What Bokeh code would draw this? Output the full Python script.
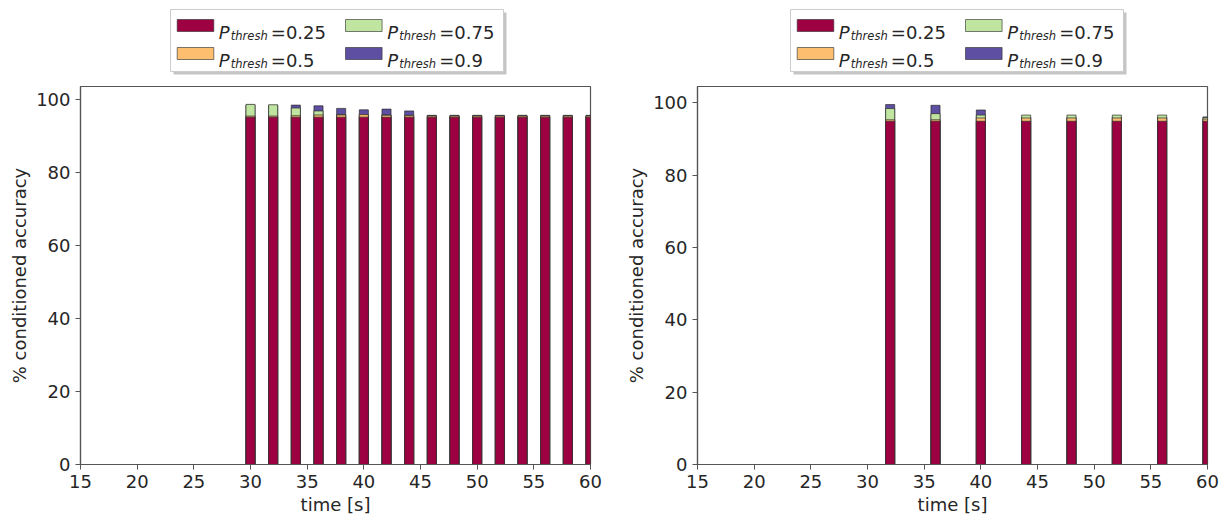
from bokeh.plotting import figure
from bokeh.layouts import row, column
from bokeh.models import Range1d, FixedTicker
from bokeh.core.properties import value
from bokeh.embed import file_html
from bokeh.resources import INLINE

# ---------------- data ----------------
thresholds = ["0.25", "0.5", "0.75", "0.9"]
colors = ["#9e0142", "#fdbf6f", "#bfe5a0", "#5e4fa2"]
x_ticks = [15, 20, 25, 30, 35, 40, 45, 50, 55, 60]
y_ticks = [0, 20, 40, 60, 80, 100]

time_left = [30, 32, 34, 36, 38, 40, 42, 44, 46, 48, 50, 52, 54, 56, 58, 60]
acc_left_025 = [95.2, 95.2, 95.2, 95.2, 95.2, 95.2, 95.2, 95.2, 95.2, 95.2, 95.2, 95.2, 95.2, 95.2, 95.2, 95.2]
acc_left_05 = [95.5, 95.5, 95.6, 95.8, 95.8, 95.9, 95.7, 95.6, 95.5, 95.5, 95.5, 95.5, 95.5, 95.5, 95.5, 95.5]
acc_left_075 = [98.7, 98.6, 97.7, 96.9, 95.9, 95.9, 95.8, 95.7, 95.6, 95.6, 95.6, 95.6, 95.6, 95.6, 95.6, 95.6]
acc_left_09 = [98.5, 98.4, 98.5, 98.3, 97.6, 97.2, 97.4, 96.9, 95.7, 95.7, 95.7, 95.7, 95.7, 95.7, 95.7, 95.7]

time_right = [32, 36, 40, 44, 48, 52, 56, 60]
acc_right_025 = [94.9, 94.9, 94.9, 94.9, 94.9, 94.9, 94.9, 94.9]
acc_right_05 = [95.3, 95.3, 95.8, 95.8, 95.8, 95.8, 95.8, 95.5]
acc_right_075 = [98.4, 97.0, 96.6, 96.6, 96.6, 96.6, 96.6, 95.9]
acc_right_09 = [99.5, 99.3, 98.0, 96.0, 96.0, 96.0, 96.0, 96.1]

FONT = "DejaVu Sans"
TXT = "#262626"
FRAME_W, FRAME_H = 510, 378
LEG_H = 84


def make_legend(b_left, b_right, box_left):
    lg = figure(frame_width=FRAME_W, frame_height=LEG_H,
                x_range=Range1d(0, FRAME_W), y_range=Range1d(LEG_H, 0),
                output_backend="svg", toolbar_location=None,
                x_axis_location=None, y_axis_location=None,
                min_border_left=b_left, min_border_right=b_right,
                min_border_top=0, min_border_bottom=0,
                background_fill_color="white", border_fill_color="white")
    lg.outline_line_color = None
    lg.xgrid.visible = False
    lg.ygrid.visible = False
    bw = 333
    top, bot = 9, 71
    # shadow + box
    lg.quad(left=[box_left + 3], right=[box_left + bw + 3], top=[top + 3], bottom=[bot + 3],
            fill_color="#8c8c8c", fill_alpha=0.5, line_color=None)
    lg.quad(left=[box_left], right=[box_left + bw], top=[top], bottom=[bot],
            fill_color="white", line_color="#cccccc", line_width=1)
    rows_c = [25, 53]
    sw_x = [6.7, 175.0]
    p_x = [48.3, 216.7]
    sl, sr, st, sb, cols = [], [], [], [], []
    px, py, sx, sy, ex, ey, et = [], [], [], [], [], [], []
    for i, (th, col) in enumerate(zip(thresholds, colors)):
        c = i // 2
        r = i % 2
        yc = rows_c[r]
        sl.append(box_left + sw_x[c])
        sr.append(box_left + sw_x[c] + 36.6)
        st.append(yc - 6)
        sb.append(yc + 6)
        cols.append(col)
        base = yc + 6.5
        x0 = box_left + p_x[c]
        px.append(x0)
        py.append(base)
        sx.append(x0 + 12)
        sy.append(base + 4)
        ex.append(x0 + 52)
        ey.append(base)
        et.append("=" + th)
    lg.quad(left=sl, right=sr, top=st, bottom=sb, fill_color=cols,
            line_color="#333333", line_alpha=0.8, line_width=0.8)
    lg.text(x=px, y=py, text=["P"] * 4, text_font=value(FONT), text_font_style="italic",
            text_font_size="18px", text_color=TXT, text_baseline="alphabetic", text_align="left")
    lg.text(x=sx, y=sy, text=["thresh"] * 4, text_font=value(FONT), text_font_style="italic",
            text_font_size="11.5px", text_color=TXT, text_baseline="alphabetic", text_align="left")
    lg.text(x=ex, y=ey, text=et, text_font=value(FONT), text_font_style="normal",
            text_font_size="18px", text_color=TXT, text_baseline="alphabetic", text_align="left")
    return lg


def make_panel(times, series, ymax, b_left, b_right):
    p = figure(frame_width=FRAME_W, frame_height=FRAME_H,
               x_range=Range1d(15, 60), y_range=Range1d(0, ymax),
               output_backend="svg", toolbar_location=None,
               min_border_left=b_left, min_border_right=b_right,
               min_border_top=2, min_border_bottom=56,
               background_fill_color="white", border_fill_color="white")
    # draw highest threshold first so lower ones sit in front
    for vals, col in reversed(list(zip(series, colors))):
        p.vbar(x=times, top=vals, bottom=0, width=0.8, fill_color=col,
               line_color="#2b2b2b", line_width=0.7)
    p.xgrid.visible = False
    p.ygrid.visible = False
    p.outline_line_color = "#555555"
    p.outline_line_width = 1.2
    p.outline_line_alpha = 1.0
    p.xaxis.ticker = FixedTicker(ticks=x_ticks)
    p.yaxis.ticker = FixedTicker(ticks=y_ticks)
    p.xaxis.axis_label = "time [s]"
    p.yaxis.axis_label = "% conditioned accuracy"
    for ax in (p.xaxis, p.yaxis):
        ax.axis_label_text_font = FONT
        ax.axis_label_text_font_style = "normal"
        ax.axis_label_text_font_size = "18px"
        ax.axis_label_text_color = TXT
        ax.axis_label_standoff = 3
        ax.major_label_text_font = FONT
        ax.major_label_text_font_size = "18px"
        ax.major_label_text_color = TXT
        ax.major_label_standoff = 5
        ax.major_tick_in = 0
        ax.major_tick_out = 5
        ax.major_tick_line_color = "#555555"
        ax.minor_tick_line_color = None
        ax.axis_line_color = "#555555"
        ax.axis_line_width = 1.2
    return p


leg1 = make_legend(80, 27, 90)
p1 = make_panel(time_left, [acc_left_025, acc_left_05, acc_left_075, acc_left_09],
                103.6, 80, 27)
leg2 = make_legend(80, 21, 93)
p2 = make_panel(time_right, [acc_right_025, acc_right_05, acc_right_075, acc_right_09],
                104.5, 80, 21)

layout = row(column(leg1, p1), column(leg2, p2))
open("out.html", "w").write(file_html(layout, INLINE))
